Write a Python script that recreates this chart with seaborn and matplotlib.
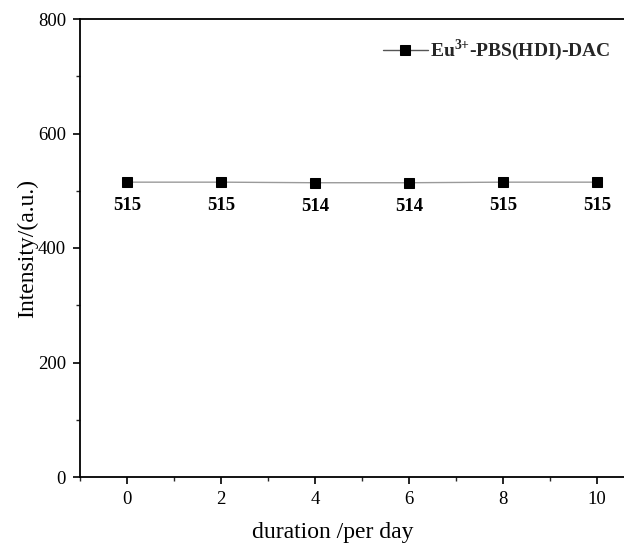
import matplotlib
matplotlib.use("Agg")
import matplotlib.pyplot as plt
import seaborn as sns
import pandas as pd
from matplotlib.ticker import MultipleLocator

days = [0, 2, 4, 6, 8, 10]
intensity = [515, 515, 514, 514, 515, 515]
series_name = r"Eu$^{\mathbf{3{+}}}$-PBS(HDI)-DAC"

sns.set_theme(style="ticks")
plt.rcParams["font.family"] = ["Liberation Serif", "DejaVu Serif"]
plt.rcParams["mathtext.fontset"] = "custom"
plt.rcParams["mathtext.rm"] = "Liberation Serif"
plt.rcParams["mathtext.bf"] = "Liberation Serif:bold"

df = pd.DataFrame({"day": days, "intensity": intensity})

fig = plt.figure(figsize=(6.24, 5.47), dpi=100)
ax = fig.add_axes([80 / 624, 1 - 477 / 547, (644 - 80) / 624, (477 - 19) / 547])

sns.lineplot(data=df, x="day", y="intensity", ax=ax, color="#9a9a9a", linewidth=1.0,
             marker="s", markersize=6.8, markerfacecolor="black", markeredgecolor="black",
             label=series_name)

for d, v in zip(days, intensity):
    ax.annotate(f"{v}", (d, v), xytext=(0, -11), textcoords="offset points",
                ha="center", va="top", fontsize=13.5, fontweight="bold", color="black")

ax.set_xlim(-1, 11)
ax.set_ylim(0, 800)
ax.xaxis.set_major_locator(MultipleLocator(2))
ax.xaxis.set_minor_locator(MultipleLocator(1))
ax.yaxis.set_major_locator(MultipleLocator(200))
ax.yaxis.set_minor_locator(MultipleLocator(100))
ax.tick_params(axis="both", which="major", direction="out", length=5, width=1.2,
               labelsize=13.5, colors="black", pad=5)
ax.tick_params(axis="both", which="minor", direction="out", length=3, width=1.0)
for s in ax.spines.values():
    s.set_linewidth(1.3)
    s.set_color("black")

ax.set_xlabel("duration /per day", fontsize=17, labelpad=10, color="black")
ax.xaxis.label.set_x(0.449)
ax.set_ylabel("Intensity/(a.u.)", fontsize=17, labelpad=0, color="black")

ax.get_legend().remove()
leg = fig.legend(loc="upper right", bbox_to_anchor=(620 / 624, 1 - 28 / 547),
                 frameon=False, fontsize=14, handlelength=2.3, handletextpad=0.1,
                 borderpad=0)
for t in leg.get_texts():
    t.set_fontweight("bold")
for h in leg.legend_handles:
    h.set_color("#555555")
    h.set_markerfacecolor("black")
    h.set_markeredgecolor("black")

fig.savefig("out.png", dpi=100)
